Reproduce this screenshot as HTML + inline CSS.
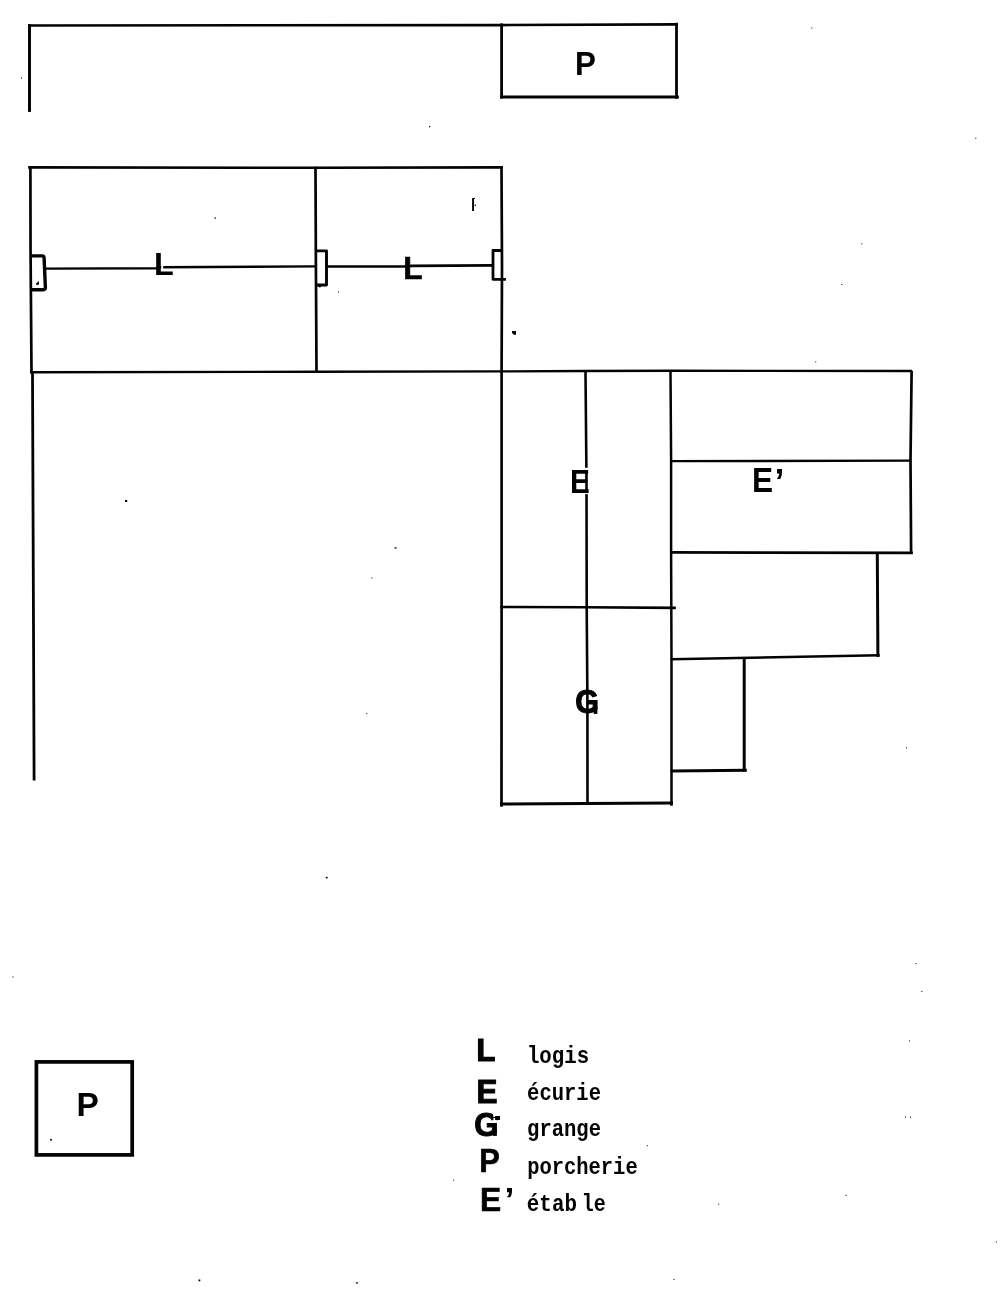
<!DOCTYPE html>
<html>
<head>
<meta charset="utf-8">
<style>
html,body{margin:0;padding:0;background:#fff;}
body{width:1004px;height:1315px;overflow:hidden;position:relative;}
svg{position:absolute;left:0;top:0;display:block;}
</style>
</head>
<body>
<svg width="1004" height="1315" viewBox="0 0 1004 1315">
<rect x="0" y="0" width="1004" height="1315" fill="#fff"/>
<g stroke="#030303" fill="none" stroke-linecap="square" stroke-linejoin="miter">
<polyline points="29.5,25.5 500,25.1 676.6,24.4" stroke-width="2.6"/>
<polyline points="29.5,25.6 29.5,110.4" stroke-width="3.0"/>
<polyline points="501.6,24.8 501.6,97.2" stroke-width="2.8"/>
<polyline points="676.5,24.2 676.5,97.3" stroke-width="2.8"/>
<polyline points="501.7,97.0 677.3,97.0" stroke-width="3.0"/>
<polyline points="29.5,167.4 316,167.8 501.6,167.4" stroke-width="2.6"/>
<polyline points="30.4,167.5 30.55,250 31.5,372" stroke-width="2.7"/>
<polyline points="315.5,168 315.9,265 316.5,371" stroke-width="2.7"/>
<polyline points="501.5,167.6 502,265 501.6,371 501.6,607 501.5,805.4" stroke-width="2.7"/>
<polyline points="31.2,372.3 316,371.8 501,371.4 585,371.0 671,370.8 910.8,371.05" stroke-width="2.4"/>
<polyline points="32.5,373 34.1,779" stroke-width="2.8"/>
<polyline points="46.5,268.6 156,268.2 160,267.3 315,266.4" stroke-width="2.4"/>
<polyline points="327,266.5 405,266.4 412,265.9 491.5,265.4" stroke-width="2.7"/>
<polyline points="585.5,372 586.5,480 586.7,607 587.4,700 587.5,802" stroke-width="2.6"/>
<polyline points="670.5,372 671.1,460 671.1,552 671.5,660 671.5,804.5" stroke-width="2.5"/>
<polyline points="501.5,804.0 585,803.4 671.5,803.0" stroke-width="3.0"/>
<polyline points="501.6,607.0 585,607.3 674.6,607.9" stroke-width="2.6"/>
<polyline points="911.6,372 910.5,460 911.1,552.6" stroke-width="2.7"/>
<polyline points="671.6,461.2 910,460.7" stroke-width="2.3"/>
<polyline points="671.7,552.3 911.4,552.9" stroke-width="2.8"/>
<polyline points="877.3,554 877.9,655.4" stroke-width="3.0"/>
<polyline points="671.8,659.3 878.4,655.3" stroke-width="2.6"/>
<polyline points="744.2,658.5 744.2,770" stroke-width="3.0"/>
<polyline points="672.0,770.9 745.3,770.3" stroke-width="3.0"/>
</g>

<g stroke="#030303" fill="none" stroke-linejoin="round">
<path d="M31.8,255.9 H42.6 Q44.0,256.0 44.1,258 L45.4,287.6 Q45.4,289.7 43.3,289.7 H31.8" stroke-width="3.4"/>
<path d="M316.9,250.9 H326.5 V285 H316.9" stroke-width="2.9"/>
<path d="M503,250.5 H493 V279.3 H505.9" stroke-width="2.8"/>
<rect x="36.4" y="1061.9" width="95.8" height="93.0" stroke-width="3.7" stroke-linejoin="miter"/>
</g>
<g fill="#030303">
<path d="M472.1,197.9 H474.9 V199 H474 V210.9 H472.1 Z"/>
<circle cx="475.3" cy="205.2" r="0.8"/>
<path d="M512,331 H516 V334.8 H514 L512,333 Z"/>
<circle cx="319.8" cy="285.8" r="1.6"/>
<path d="M36,283.5 L38.8,281 L39,284.7 H36 Z"/>
<circle cx="51" cy="1139.7" r="1"/>
<rect x="214.5" y="217.4" width="1.3" height="1.3"/>
<rect x="338" y="291.5" width="1" height="1"/>
<rect x="429" y="126" width="1.2" height="1.2"/>
<rect x="21" y="77.5" width="1" height="1"/>
<rect x="125" y="500" width="2.2" height="2"/>
<rect x="394.5" y="547.3" width="2.2" height="1.2"/>
<rect x="371.3" y="577.4" width="1" height="1"/>
<rect x="366.2" y="713.1" width="1" height="1"/>
<rect x="325.8" y="876.8" width="1.8" height="1.6"/>
<rect x="12.5" y="976.5" width="1" height="1"/>
<rect x="811.3" y="27.4" width="1" height="1"/>
<rect x="975.3" y="137.8" width="1" height="1"/>
<rect x="861.3" y="243.3" width="1" height="1"/>
<rect x="841.3" y="284" width="1" height="1"/>
<rect x="815.2" y="361.4" width="1" height="1"/>
<rect x="906" y="747.3" width="1" height="1"/>
<rect x="915.4" y="963" width="1" height="1"/>
<rect x="921.3" y="991" width="1" height="1"/>
<rect x="909" y="1040.4" width="1" height="1"/>
<rect x="646.8" y="1145.2" width="1" height="1"/>
<rect x="905" y="1116.5" width="1" height="1"/>
<rect x="910" y="1116.8" width="1" height="1"/>
<rect x="845.6" y="1194.9" width="1" height="1"/>
<rect x="718.3" y="1203.7" width="1" height="1"/>
<rect x="995.9" y="1241.5" width="1" height="1"/>
<rect x="673.5" y="1279" width="1" height="1"/>
<rect x="198.5" y="1279.5" width="1.8" height="1.8"/>
<rect x="355.8" y="1282.3" width="2.2" height="1.2"/>
<rect x="453.2" y="1179.7" width="1" height="1"/>
<path d="M593.6,707 H597.4 V713.9 H593.6 Z"/>
</g>

<rect x="583.8" y="467.8" width="5.2" height="2.3" fill="#fff"/>
<rect x="583.8" y="492.8" width="5.2" height="1.3" fill="#fff"/>
<rect x="161.2" y="265.6" width="2.0" height="3.6" fill="#fff"/>
<g style="filter:grayscale(1)">
<text x="0" y="0" font-family="&quot;Liberation Sans&quot;" font-weight="bold" font-size="100" fill="#030303" transform="matrix(0.31429 0 0 0.33043 575.000 74.800)">P</text>
<text x="0" y="0" font-family="&quot;Liberation Sans&quot;" font-weight="bold" font-size="100" fill="#030303" transform="matrix(0.32353 0 0 0.31159 153.935 274.700)">L</text>
<text x="0" y="0" font-family="&quot;Liberation Sans&quot;" font-weight="bold" font-size="100" fill="#030303" stroke="#030303" stroke-width="2" stroke-linejoin="miter" transform="matrix(0.31509 0 0 0.31972 403.309 278.580)">L</text>
<text x="0" y="0" font-family="&quot;Liberation Sans&quot;" font-weight="bold" font-size="100" fill="#030303" transform="matrix(0.29821 0 0 0.33188 570.113 492.900)">E</text>
<text x="0" y="0" font-family="&quot;Liberation Sans&quot;" font-weight="bold" font-size="100" fill="#030303" transform="matrix(0.31607 0 0 0.34638 751.988 491.900)">E</text>
<text x="0" y="0" font-family="&quot;Liberation Sans&quot;" font-weight="bold" font-size="100" fill="#030303" transform="matrix(0.35714 0 0 0.34643 774.600 493.104)">’</text>
<text x="0" y="0" font-family="&quot;Liberation Sans&quot;" font-weight="bold" font-size="100" fill="#030303" stroke="#030303" stroke-width="3" stroke-linejoin="miter" transform="matrix(0.30571 0 0 0.32877 575.183 713.242)">G</text>
<text x="0" y="0" font-family="&quot;Liberation Sans&quot;" font-weight="bold" font-size="100" fill="#030303" transform="matrix(0.33571 0 0 0.33478 76.550 1115.900)">P</text>
<text x="0" y="0" font-family="&quot;Liberation Sans&quot;" font-weight="bold" font-size="100" fill="#030303" stroke="#030303" stroke-width="4" stroke-linejoin="miter" transform="matrix(0.30727 0 0 0.31233 476.464 1061.175)">L</text>
<text x="0" y="0" font-family="&quot;Liberation Sans&quot;" font-weight="bold" font-size="100" fill="#030303" stroke="#030303" stroke-width="3" stroke-linejoin="miter" transform="matrix(0.31525 0 0 0.33521 476.624 1102.565)">E</text>
<text x="0" y="0" font-family="&quot;Liberation Sans&quot;" font-weight="bold" font-size="100" fill="#030303" stroke="#030303" stroke-width="3" stroke-linejoin="miter" transform="matrix(0.31143 0 0 0.34110 474.166 1136.218)">G</text>
<text x="0" y="0" font-family="&quot;Liberation Sans&quot;" font-weight="bold" font-size="100" fill="#030303" stroke="#030303" stroke-width="2" stroke-linejoin="miter" transform="matrix(0.30862 0 0 0.32394 479.148 1172.476)">P</text>
<text x="0" y="0" font-family="&quot;Liberation Sans&quot;" font-weight="bold" font-size="100" fill="#030303" stroke="#030303" stroke-width="2" stroke-linejoin="miter" transform="matrix(0.31724 0 0 0.32958 479.897 1211.370)">E</text>
<text x="0" y="0" font-family="&quot;Liberation Sans&quot;" font-weight="bold" font-size="100" fill="#030303" transform="matrix(0.35714 0 0 0.32857 504.400 1211.371)">’</text>
<text x="0" y="0" font-family="&quot;Liberation Mono&quot;" font-weight="bold" font-size="100" fill="#030303" transform="matrix(0.20742 0 0 0.23693 526.918 1063.300)">logis</text>
<text x="0" y="0" font-family="&quot;Liberation Mono&quot;" font-weight="bold" font-size="100" fill="#030303" transform="matrix(0.20543 0 0 0.23693 527.073 1099.600)">écurie</text>
<text x="0" y="0" font-family="&quot;Liberation Mono&quot;" font-weight="bold" font-size="100" fill="#030303" transform="matrix(0.20544 0 0 0.23693 527.067 1136.400)">grange</text>
<text x="0" y="0" font-family="&quot;Liberation Mono&quot;" font-weight="bold" font-size="100" fill="#030303" transform="matrix(0.20473 0 0 0.23693 527.167 1174.300)">porcherie</text>
<text x="0" y="0" font-family="&quot;Liberation Mono&quot;" font-weight="bold" font-size="100" fill="#030303" transform="matrix(0.20870 0 0 0.23693 526.857 1210.700)">étab</text>
<text x="0" y="0" font-family="&quot;Liberation Mono&quot;" font-weight="bold" font-size="100" fill="#030303" transform="matrix(0.20000 0 0 0.23693 581.800 1210.700)">le</text>
</g>
<path d="M492.9,1110.5 H499 V1122 H493.6 Z" fill="#fff"/>
<path d="M495.1,1116.1 H500 V1119.9 H497.6 L497.1,1120.6 L496.6,1119.9 H495.1 V1117.9 H492.5 V1117.1 H495.1 Z" fill="#030303"/>
<path d="M492.8,1129 H496.9 V1135.9 H492.8 Z" fill="#030303"/>
</svg>
</body>
</html>
